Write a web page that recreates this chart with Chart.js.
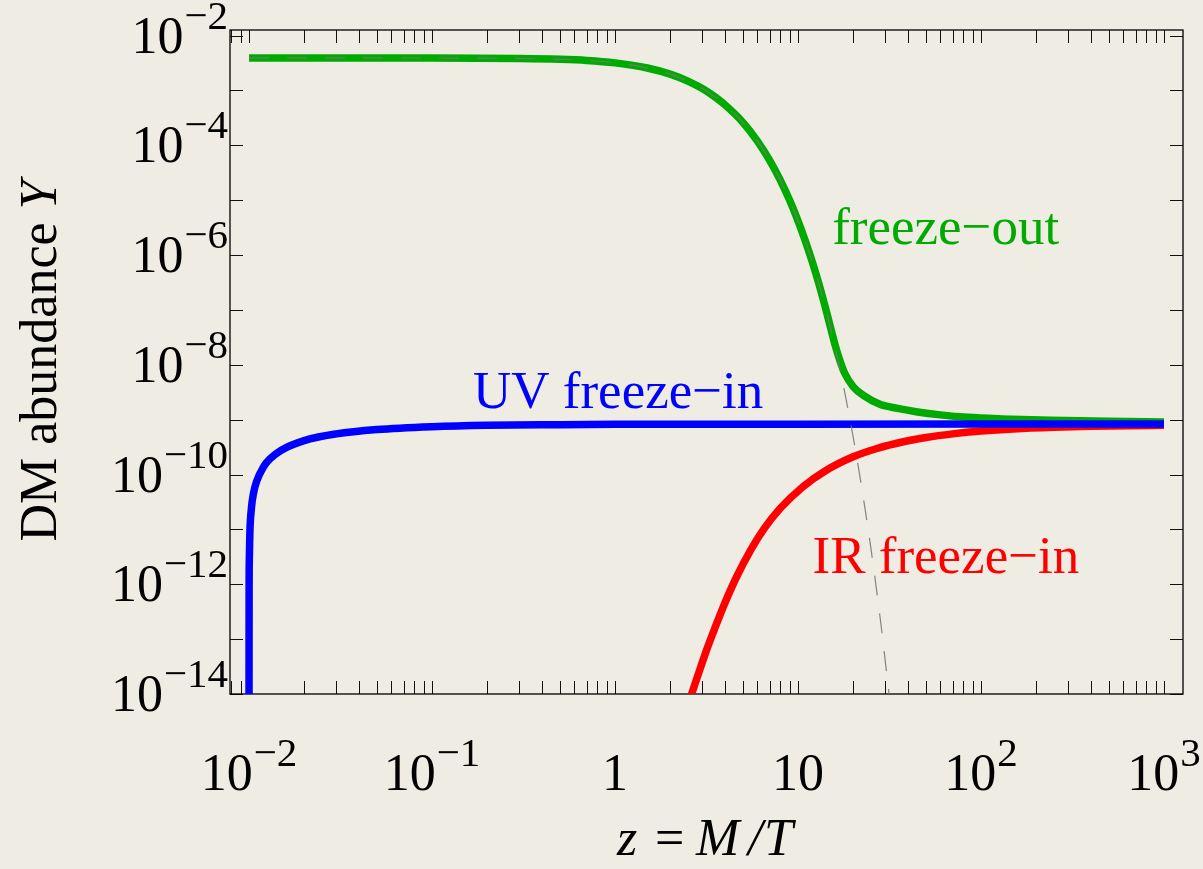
<!DOCTYPE html>
<html><head><meta charset="utf-8">
<script src="https://cdn.jsdelivr.net/npm/chart.js@4.4.0/dist/chart.umd.min.js"></script>
<style>html,body{margin:0;padding:0;background:#efece4;}canvas{display:block;}</style>
</head><body>
<canvas id="c" width="1203" height="869"></canvas>
<script>
// ---- data (z = M/T, Y = DM abundance) ----
const zFreezeOut = [0.01, 0.1, 0.3, 0.5, 0.7, 1, 1.5, 2, 2.5, 3, 3.5, 4, 5, 6, 7, 8, 9, 10, 11, 12, 13, 14, 15, 16, 17, 18, 20, 23, 28, 35, 45, 60, 85, 130, 240, 500, 1000];
const yFreezeOut = [3.9e-3, 3.89e-3, 3.81e-3, 3.68e-3, 3.51e-3, 3.17e-3, 2.56e-3, 1.98e-3, 1.48e-3, 1.08e-3, 7.7e-4, 5.4e-4, 2.6e-4, 1.19e-4, 5.3e-5, 2.31e-5, 9.9e-6, 4.2e-6, 1.75e-6, 7.3e-7, 3.0e-7, 1.22e-7, 5.0e-8, 2.2e-8, 1.15e-8, 7.0e-9, 4.0e-9, 2.7e-9, 1.9e-9, 1.6e-9, 1.38e-9, 1.22e-9, 1.1e-9, 1.03e-9, 9.7e-10, 9.3e-10, 9.1e-10];

const zEquilibrium = [0.01, 0.1, 0.3, 0.5, 0.7, 1, 1.5, 2, 2.5, 3, 3.5, 4, 5, 6, 7, 8, 9, 10, 11, 12, 13, 14, 15, 16, 17, 18, 20, 22, 25, 28, 31.5];
const yEquilibrium = [3.9e-3, 3.89e-3, 3.81e-3, 3.68e-3, 3.51e-3, 3.17e-3, 2.56e-3, 1.98e-3, 1.48e-3, 1.08e-3, 7.7e-4, 5.4e-4, 2.6e-4, 1.19e-4, 5.3e-5, 2.31e-5, 9.9e-6, 4.2e-6, 1.75e-6, 7.3e-7, 3.0e-7, 1.21e-7, 4.9e-8, 1.97e-8, 7.9e-9, 3.15e-9, 4.9e-10, 7.6e-11, 4.6e-12, 2.7e-13, 9.6e-15];

const zUV = [0.01, 0.01001, 0.01003, 0.0101, 0.0103, 0.0106, 0.011, 0.012, 0.013, 0.015, 0.02, 0.03, 0.05, 0.1, 0.2, 0.5, 1, 10, 100, 1000];
const yUV = [1e-14, 8.3e-13, 2.5e-12, 8.2e-12, 2.4e-11, 4.7e-11, 7.5e-11, 1.38e-10, 1.92e-10, 2.77e-10, 4.15e-10, 5.5e-10, 6.6e-10, 7.45e-10, 7.9e-10, 8.1e-10, 8.2e-10, 8.28e-10, 8.3e-10, 8.3e-10];

const zIR = [2.6, 2.8, 3, 3.2, 3.5, 4, 4.62, 5.5, 6.5, 8, 10.7, 14, 20, 27, 37.6, 50, 70, 100, 150, 250, 400, 650, 1000];
const yIR = [9.2e-15, 1.93e-14, 3.8e-14, 7.0e-14, 1.54e-13, 4.7e-13, 1.37e-12, 4.15e-12, 1.01e-11, 2.42e-11, 6.09e-11, 1.15e-10, 2.1e-10, 2.98e-10, 3.95e-10, 4.72e-10, 5.5e-10, 6.18e-10, 6.77e-10, 7.27e-10, 7.57e-10, 7.77e-10, 7.88e-10];

// ---- axes / ticks ----
const xRange = [0.00787, 1270];
const yRange = [1e-14, 0.0126];
const xMajorExps = [-3, -2, -1, 0, 1, 2, 3];
const xTickLabelExps = [-2, -1, 0, 1, 2, 3];
const xTickLabelBase = ['10', '10', '1', '10', '10', '10'];
const xTickLabelSup = ['\u22122', '\u22121', '', '', '2', '3'];
const yTickExps = [-14, -13, -12, -11, -10, -9, -8, -7, -6, -5, -4, -3, -2];
const yTickLabelExps = [-14, -12, -10, -8, -6, -4, -2];
const yTickLabelBase = ['10', '10', '10', '10', '10', '10', '10'];
const yTickLabelSup = ['\u221214', '\u221212', '\u221210', '\u22128', '\u22126', '\u22124', '\u22122'];

// ---- annotations (anchor: left / baseline, in data coords) ----
const labelTexts = ['freeze\u2212out', 'UV freeze\u2212in', 'IR freeze\u2212in'];
const labelColors = ['#00aa00', '#0000ff', '#ff0000'];
const labelZ = [15.36, 0.1675, 12.0];
const labelY = [1.62e-6, 1.64e-9, 1.58e-12];

const pts = (xs, ys) => xs.map((v, i) => ({x: v, y: ys[i]}));
const SERIF = '"Liberation Serif", "Times New Roman", serif';

const mmaPlugin = {
  id: 'mma',
  beforeDatasetsDraw(chart) {
    const {ctx, chartArea: a, scales: {x, y}} = chart;
    ctx.save();
    ctx.strokeStyle = '#111';
    ctx.lineWidth = 1;
    const L = 13;
    const seg = (x1, y1, x2, y2) => { ctx.beginPath(); ctx.moveTo(x1, y1); ctx.lineTo(x2, y2); ctx.stroke(); };
    for (const e of xMajorExps) {
      for (let m = 1; m <= 9; m++) {
        const v = m * Math.pow(10, e);
        const px = Math.round(x.getPixelForValue(v)) + 0.5;
        if (px <= a.left + 1 || px >= a.right - 1) continue;
        seg(px, a.bottom, px, a.bottom - L);
        seg(px, a.top, px, a.top + L);
      }
    }
    for (const e of yTickExps) {
      const py = Math.round(y.getPixelForValue(Math.pow(10, e))) + 0.5;
      if (py < a.top || py > a.bottom + 1) continue;
      seg(a.left, py, a.left + L, py);
      seg(a.right, py, a.right - L, py);
    }
    ctx.strokeStyle = '#000';
    ctx.lineWidth = 1.3;
    ctx.strokeRect(a.left, a.top, a.right - a.left, a.bottom - a.top);
    ctx.restore();
  },
  afterDraw(chart) {
    const {ctx, scales: {x, y}} = chart;
    ctx.save();
    ctx.fillStyle = '#000';
    ctx.textBaseline = 'alphabetic';
    const baseFont = '52px ' + SERIF;
    const supFont = '41px ' + SERIF;
    // x tick labels
    xTickLabelExps.forEach((e, i) => {
      const px = x.getPixelForValue(Math.pow(10, e));
      ctx.font = baseFont; const wb = ctx.measureText(xTickLabelBase[i]).width;
      ctx.font = supFont; const ws = xTickLabelSup[i] ? ctx.measureText(xTickLabelSup[i]).width + 1 : 0;
      const x0 = px - (wb + ws) / 2;
      ctx.font = baseFont; ctx.textAlign = 'left';
      ctx.fillText(xTickLabelBase[i], x0, 790);
      if (ws) { ctx.font = supFont; ctx.fillText(xTickLabelSup[i], x0 + wb + 1, 766); }
    });
    // y tick labels
    yTickLabelExps.forEach((e, i) => {
      const py = y.getPixelForValue(Math.pow(10, e));
      ctx.font = supFont; const ws = ctx.measureText(yTickLabelSup[i]).width;
      ctx.textAlign = 'right';
      ctx.fillText(yTickLabelSup[i], 228, py + 17 - 24);
      ctx.font = baseFont;
      ctx.fillText(yTickLabelBase[i], 228 - ws - 1, py + 17);
    });
    // annotations
    ctx.textAlign = 'left';
    ctx.font = '53px ' + SERIF;
    labelTexts.forEach((t, i) => {
      ctx.fillStyle = labelColors[i];
      ctx.fillText(t, x.getPixelForValue(labelZ[i]), y.getPixelForValue(labelY[i]));
    });
    // x axis title: z = M/T
    ctx.fillStyle = '#000';
    ctx.font = 'italic 52px ' + SERIF;
    ctx.fillText('z', 617, 855);
    ctx.font = '52px ' + SERIF;
    ctx.fillText('=', 655, 855);
    ctx.font = 'italic 52px ' + SERIF;
    ctx.fillText('M', 696, 855);
    ctx.fillText('/', 748, 855);
    ctx.fillText('T', 764, 855);
    // y axis title
    ctx.save();
    ctx.translate(56, 361);
    ctx.rotate(-Math.PI / 2);
    const t1 = 'DM abundance ', t2 = 'Y';
    ctx.font = '52px ' + SERIF; const w1 = ctx.measureText(t1).width;
    ctx.font = 'italic 52px ' + SERIF; const w2 = ctx.measureText(t2).width;
    const s = -(w1 + w2) / 2;
    ctx.font = '52px ' + SERIF; ctx.fillText(t1, s, 0);
    ctx.font = 'italic 52px ' + SERIF; ctx.fillText(t2, s + w1, 0);
    ctx.restore();
    ctx.restore();
  }
};

const common = {pointRadius: 0, fill: false, cubicInterpolationMode: 'monotone', borderCapStyle: 'butt'};

new Chart(document.getElementById('c'), {
  type: 'line',
  data: {
    datasets: [
      Object.assign({label: 'Equilibrium', data: pts(zEquilibrium, yEquilibrium), borderColor: 'rgba(120,120,120,0.9)', borderWidth: 1.2, borderDash: [20, 18], order: 0}, common),
      Object.assign({label: 'UV freeze-in', data: pts(zUV, yUV), borderColor: '#0000ff', borderWidth: 7.5, order: 1}, common),
      Object.assign({label: 'IR freeze-in', data: pts(zIR, yIR), borderColor: '#ff0000', borderWidth: 7.5, order: 2}, common),
      Object.assign({label: 'freeze-out', data: pts(zFreezeOut, yFreezeOut), borderColor: '#00aa00', borderWidth: 7.5, order: 3}, common)
    ]
  },
  options: {
    responsive: false,
    animation: false,
    devicePixelRatio: 1,
    layout: {padding: {left: 230, right: 20, top: 30, bottom: 175}},
    plugins: {legend: {display: false}, tooltip: {enabled: false}},
    scales: {
      x: {type: 'logarithmic', min: xRange[0], max: xRange[1], display: false},
      y: {type: 'logarithmic', min: yRange[0], max: yRange[1], display: false}
    }
  },
  plugins: [mmaPlugin]
});
</script>
</body></html>
